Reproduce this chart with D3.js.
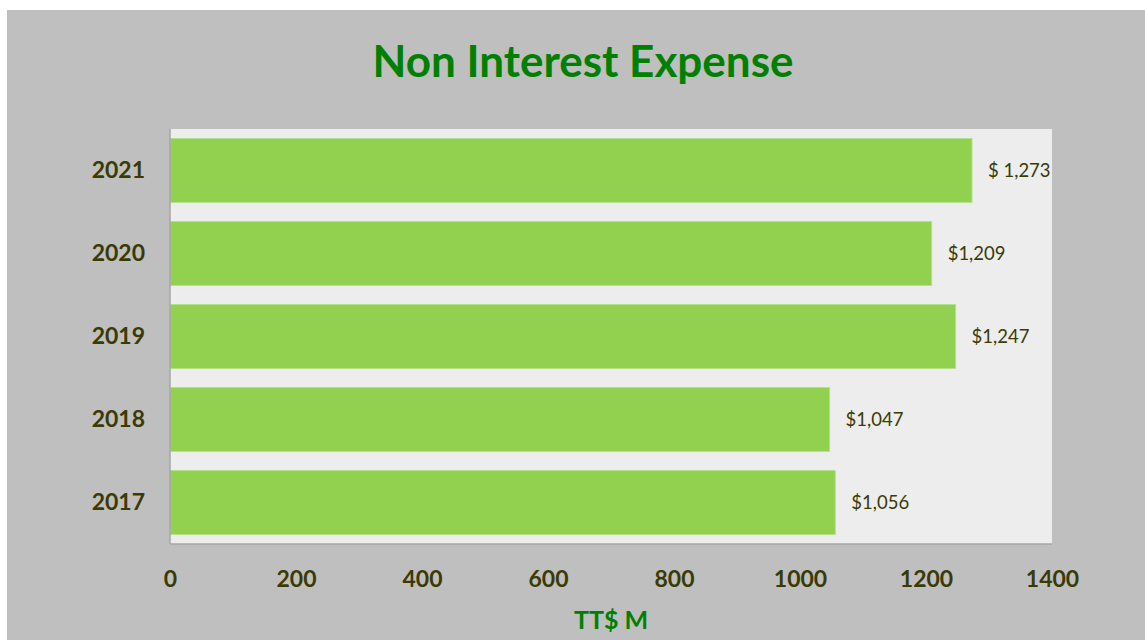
<!DOCTYPE html>
<html><head><meta charset="utf-8">
<script src="https://cdn.jsdelivr.net/npm/d3@7"></script>
<style>body{margin:0;background:#fff}svg{display:block}</style>
</head><body>
<svg id="c" width="1145" height="640"></svg>
<script>
const years = ["2021","2020","2019","2018","2017"];
const values = [1273,1209,1247,1047,1056];
const valueLabels = ["$ 1,273","$1,209","$1,247","$1,047","$1,056"];
const xTicks = [0,200,400,600,800,1000,1200,1400];

const svg = d3.select("#c");
const font = "Lato, 'Open Sans', sans-serif";
const txt = "#3a3a05";
svg.append("rect").attr("x",7).attr("y",10).attr("width",1138).attr("height",630).attr("fill","#bfbfbf");

const L=170,R=1052,T=129,B=544;
svg.append("rect").attr("x",L).attr("y",T).attr("width",R-L).attr("height",B-T).attr("fill","#ededed");

const x = d3.scaleLinear().domain([0,1400]).range([L,R]);
const y = d3.scaleBand().domain(years).range([T,B]).paddingInner(0.23).paddingOuter(0.115);

svg.selectAll("rect.bar").data(years).join("rect").attr("class","bar")
  .attr("x",x(0)).attr("y",d=>y(d)).attr("height",y.bandwidth())
  .attr("width",(d,i)=>x(values[i])-x(0))
  .attr("fill","#92d050").attr("stroke","#b5e08a").attr("stroke-width",1);

svg.selectAll("text.vl").data(years).join("text").attr("class","vl")
  .attr("x",(d,i)=>x(values[i])+16).attr("y",d=>y(d)+y.bandwidth()/2)
  .attr("dy","0.35em").attr("font-family",font).attr("font-size",18.5).attr("fill",txt)
  .text((d,i)=>valueLabels[i]);

// axes lines
svg.append("line").attr("x1",L).attr("x2",L).attr("y1",T).attr("y2",B).attr("stroke","#a6a6a6").attr("stroke-width",1.5);
svg.append("line").attr("x1",L).attr("x2",R).attr("y1",B).attr("y2",B).attr("stroke","#a6a6a6").attr("stroke-width",1.5);

const xa = svg.append("g").attr("transform",`translate(0,${B})`).call(d3.axisBottom(x).tickValues(xTicks).tickSize(0).tickPadding(27).tickFormat(d3.format("d")));
xa.select(".domain").remove();
xa.selectAll("text").attr("font-family",font).attr("font-size",23).attr("font-weight","bold").attr("fill",txt);

const ya = svg.append("g").attr("transform",`translate(${L},0)`).call(d3.axisLeft(y).tickSize(0).tickPadding(25));
ya.select(".domain").remove();
ya.selectAll("text").attr("font-family",font).attr("font-size",23).attr("font-weight","bold").attr("fill",txt);

svg.append("text").attr("x",583).attr("y",77).attr("text-anchor","middle")
  .attr("font-family",font).attr("font-size",44).attr("font-weight","bold").attr("fill","#008000")
  .text("Non Interest Expense");
svg.append("text").attr("x",611).attr("y",629).attr("text-anchor","middle")
  .attr("font-family",font).attr("font-size",25).attr("font-weight","bold").attr("fill","#008000")
  .text("TT$ M");
</script>
</body></html>
